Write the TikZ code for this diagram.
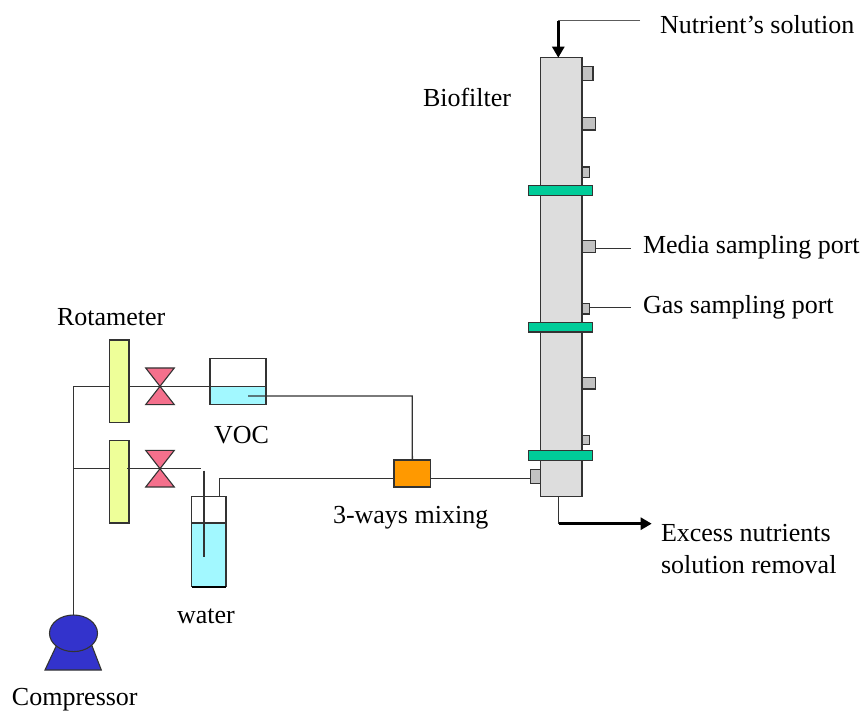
\documentclass[tikz,border=0pt]{standalone}
\usepackage{fontspec}
\setmainfont{Liberation Serif}
\usetikzlibrary{arrows.meta,shapes.geometric}
\definecolor{rotc}{HTML}{EEFF99}
\definecolor{valc}{HTML}{F4708C}
\definecolor{liqc}{HTML}{A2F8FF}
\definecolor{flac}{HTML}{00CC99}
\definecolor{mixc}{HTML}{FF9900}
\definecolor{colc}{HTML}{DDDDDD}
\definecolor{porc}{HTML}{C2C2C2}
\definecolor{cmpc}{HTML}{3333CC}
\definecolor{linc}{HTML}{333333}
\tikzset{
  x=1pt,y=-1pt,
  pipe/.style={draw=linc,line width=1.3pt},
  boxn/.style={draw=linc,line width=1.3pt,inner sep=0pt,outer sep=0pt,rectangle},
  portb/.style={boxn,fill=porc},
  flange/.style={boxn,fill=flac},
  rotam/.style={boxn,fill=rotc},
  thick arrow/.style={draw=black,line width=2.6pt,-{Triangle[length=11pt,width=12pt]}},
  lab/.style={anchor=base west,inner sep=0pt,outer sep=0pt,font=\fontsize{26}{30}\selectfont},
  valve/.style={draw=linc,line width=1.1pt,fill=valc},
  comp/.style={draw=linc,line width=1.1pt,fill=cmpc},
}
% \bx{name}{style}{x1}{y1}{x2}{y2}
\newcommand{\bx}[6]{%
  \pgfmathsetmacro{\cxx}{(#3+#5)/2}\pgfmathsetmacro{\cyy}{(#4+#6)/2}%
  \pgfmathsetmacro{\www}{#5-#3}\pgfmathsetmacro{\hhh}{#6-#4}%
  \node[#2,minimum width=\www pt,minimum height=\hhh pt] (#1) at (\cxx,\cyy) {};}
\newcommand{\valvetie}[1]{%
  \path[valve] ([shift={(-14.3,-18.3)}]#1) -- ([shift={(14.3,-18.3)}]#1) -- ([shift={(-14.3,18.3)}]#1) -- ([shift={(14.3,18.3)}]#1) -- cycle;}
\begin{document}
\begin{tikzpicture}
\useasboundingbox (0,0) rectangle (863,711);
% anchors of the pipe network
\coordinate (v1) at (160,386.3);
\coordinate (v2) at (160,468.7);
\coordinate (jtop) at (73.5,386.3);
\coordinate (jmid) at (73.5,468.7);
\coordinate (v2end) at (200.7,468.7);
\coordinate (vocout) at (248,396);
\coordinate (vocin) at (266,386.3);
\coordinate (wout) at (219.7,478.3);
\coordinate (mixin) at (394,478.3);
\coordinate (mixout) at (430.7,478.3);
\coordinate (portin) at (530.7,478.3);
\coordinate (bend) at (412.3,396);
\coordinate (nutin) at (558.3,57.7);
\coordinate (nutcorner) at (558.3,20.7);
\coordinate (nutend) at (640,20.7);
\coordinate (excess) at (558.7,496.7);
\coordinate (excorner) at (558.7,523.7);
\coordinate (exend) at (651.7,523.7);
\coordinate (mediaend) at (630.7,248.3);
\coordinate (gasend) at (630.7,307.7);
\coordinate (dipt) at (204,470.7);
\coordinate (dipb) at (204,557.3);
% compressor
\path[comp] (56.7,645) -- (45,670) -- (101.3,670) -- (91.7,645) -- cycle;
\node[comp,ellipse,minimum width=48pt,minimum height=36.6pt,inner sep=0pt,outer sep=0pt] (compressor) at (73.5,633.3) {};
% feed lines
\draw[pipe] (compressor.north) -- (jtop) -- (vocin);
\draw[pipe] (jmid) -- (v2end);
% rotameters
\bx{rot1}{rotam}{109.5}{340}{129}{422.7}
\bx{rot2}{rotam}{109.5}{440.7}{129}{523}
\draw[pipe] (127,468.7) -- (v2);
\valvetie{v1}
\valvetie{v2}
% VOC vessel
\bx{voc}{boxn,fill=white}{210}{358.3}{266}{404.7}
\bx{vocliq}{boxn,fill=liqc}{210}{386.3}{266}{404.7}
% water vessel
\bx{wat}{boxn,fill=white}{191.7}{496.3}{226}{586.7}
\bx{watliq}{boxn,fill=liqc}{191.7}{523}{226}{586.7}
\draw[draw=black,line width=2.2pt] (watliq.south west) -- (watliq.south east);
\draw[pipe] (dipt) -- (dipb);
% mixer
\bx{mix}{boxn,fill=mixc}{394}{460}{430.7}{487}
\draw[pipe] (vocout) -- (bend) -- (mix.north);
\draw[pipe] (wat.north -| wout) -- (wout) -- (mixin);
% column
\bx{col}{boxn,fill=colc}{540.7}{57.7}{582}{496.7}
\bx{p1}{portb}{582}{66.7}{593}{80.3}
\bx{p2}{portb}{582}{117.3}{595.7}{130}
\bx{p3}{portb}{582}{167}{589.3}{177.3}
\bx{p4}{portb}{582}{240.7}{595.7}{252.3}
\bx{p5}{portb}{582}{303.7}{589.7}{314}
\bx{p6}{portb}{582}{377.7}{595.7}{389}
\bx{p7}{portb}{582}{435.7}{589.7}{444.7}
\bx{p8}{portb}{530.7}{469.7}{540.7}{483.3}
\bx{f1}{flange}{528.3}{185.3}{592.7}{195.3}
\bx{f2}{flange}{528.3}{322.3}{592.7}{332}
\bx{f3}{flange}{528.3}{450.7}{592.7}{460.3}
\draw[pipe] (mixout) -- (portin);
\draw[pipe] (p4.east |- mediaend) -- (mediaend);
\draw[pipe] (p5.east |- gasend) -- (gasend);
% nutrient lines
\draw[draw=linc!80,line width=1.3pt] (nutend) -- (nutcorner);
\draw[thick arrow] (nutcorner) -- (nutin);
\draw[pipe] (excess) -- (excorner);
\draw[thick arrow] (excorner) -- (exend);
% labels
\node[lab] (tnut) at (660,34) {Nutrient’s solution};
\node[lab] (tbio) at (423,107) {Biofilter};
\node[lab] (tmed) at (643,254) {Media sampling port};
\node[lab] (tgas) at (643,314) {Gas sampling port};
\node[lab] (trot) at (57,326) {Rotameter};
\node[lab] (tvoc) at (214,444) {VOC};
\node[lab] (tmix) at (333,523) {3-ways mixing};
\node[lab] (tex1) at (661,541) {Excess nutrients};
\node[lab] (tex2) at (661,573) {solution removal};
\node[lab] (twat) at (177,623) {water};
\node[lab] (tcom) at (12,705) {Compressor};
\end{tikzpicture}
\end{document}
